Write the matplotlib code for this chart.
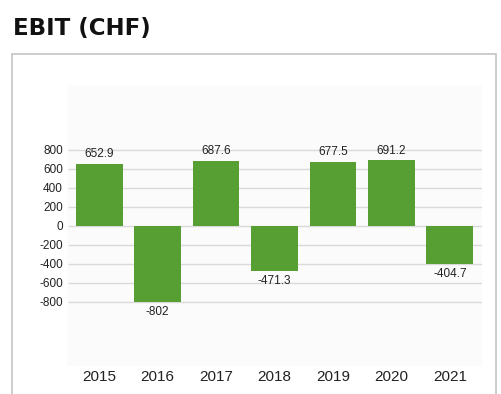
import matplotlib
matplotlib.use("Agg")
import matplotlib.pyplot as plt
from matplotlib.patches import Rectangle

years = ["2015", "2016", "2017", "2018", "2019", "2020", "2021"]
ebit = [652.9, -802, 687.6, -471.3, 677.5, 691.2, -404.7]
yticks = [-800, -600, -400, -200, 0, 200, 400, 600, 800]

W, H = 502, 394
fig = plt.figure(figsize=(W / 100, H / 100), dpi=100)

# outer frame around the chart
fig.patches.append(Rectangle((12 / W, -0.05), 484 / W, 1 - 54 / H + 0.05,
                             transform=fig.transFigure, fill=False,
                             edgecolor="#c4c4c4", linewidth=1.2))

fig.text(13 / W, 1 - 28 / H, "EBIT (CHF)", fontsize=16.5, fontweight="bold",
         family="DejaVu Sans", va="center", ha="left", color="#111111")

ax = fig.add_axes([67 / W, 1 - 366 / H, 415 / W, 281 / H])
ax.set_facecolor("#fbfbfb")
for s in ax.spines.values():
    s.set_visible(False)

x = range(len(years))
ax.bar(x, ebit, width=0.8, color="#579f33", zorder=3)
ax.set_xlim(-0.55, len(years) - 0.45)
ax.set_ylim(-1474, 1484)

for v in yticks:
    ax.axhline(v, xmin=0.004, xmax=1, color="#d9d9d9", linewidth=1, zorder=1)

for i, v in enumerate(ebit):
    lab = f"{v:g}"
    if v >= 0:
        ax.text(i, v + 40, lab, ha="center", va="bottom", fontsize=8.5,
                family="Liberation Sans", color="#222222")
    else:
        ax.text(i, v - 40, lab, ha="center", va="top", fontsize=8.5,
                family="Liberation Sans", color="#222222")

ax.set_yticks(yticks)
ax.set_yticklabels([str(v) for v in yticks], fontsize=8.5, family="Liberation Sans",
                   color="#222222")
ax.set_xticks(list(x))
ax.set_xticklabels(years, fontsize=11, family="Liberation Sans", color="#222222")
ax.tick_params(axis="both", length=0)
ax.tick_params(axis="y", pad=3)
ax.tick_params(axis="x", pad=3)

fig.savefig("out.png", dpi=100)
